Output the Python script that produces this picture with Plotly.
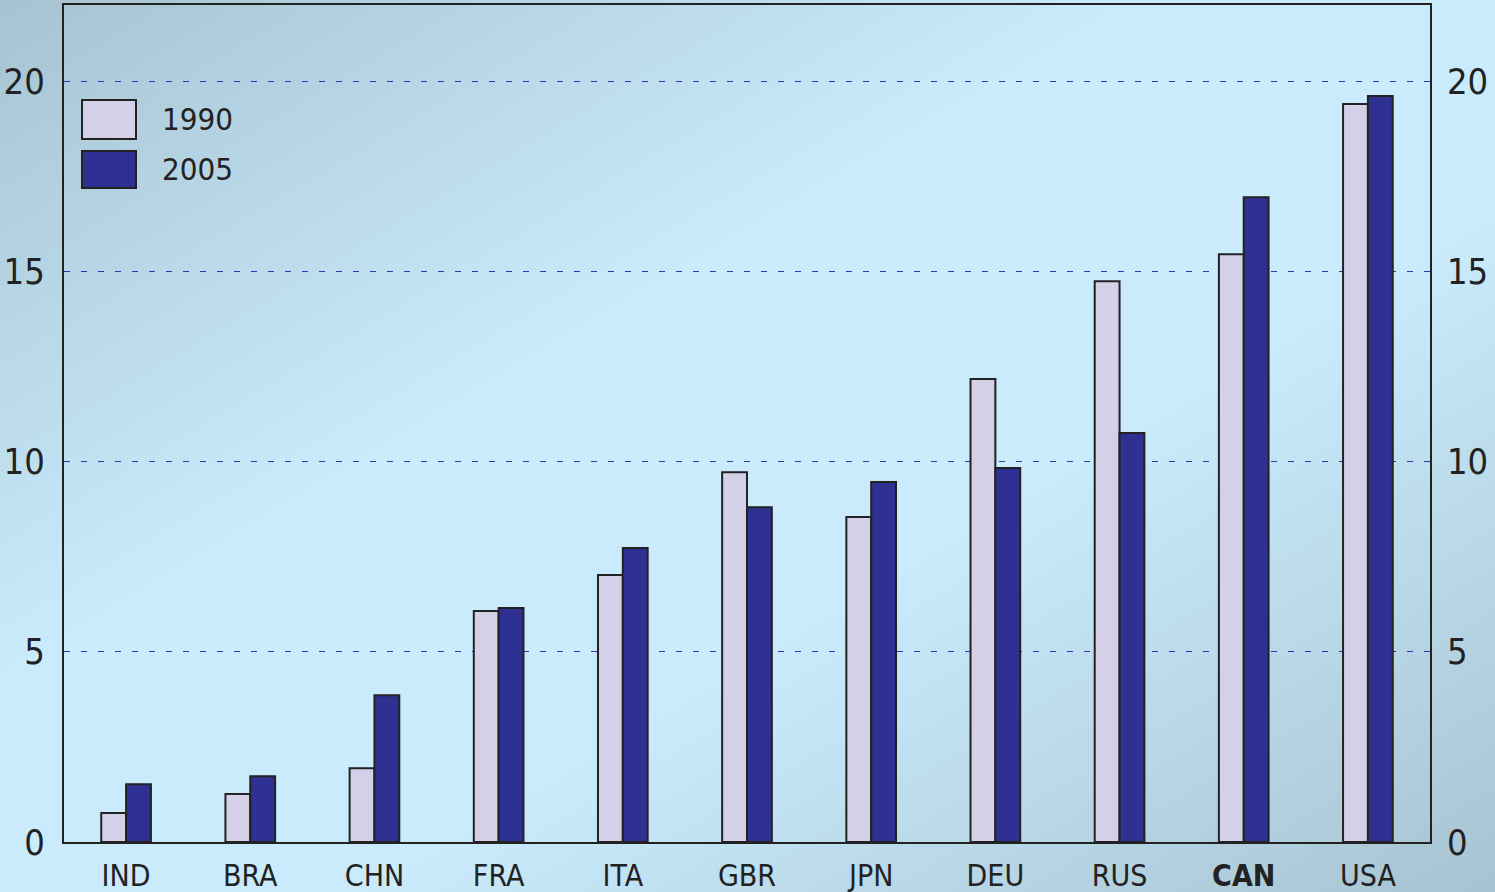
import base64
import plotly.graph_objects as go

countries = ["IND", "BRA", "CHN", "FRA", "ITA", "GBR", "JPN", "DEU", "RUS", "CAN", "USA"]
tick_text = ["IND", "BRA", "CHN", "FRA", "ITA", "GBR", "JPN", "DEU", "RUS", "<b>CAN</b>", "USA"]
val_1990 = [0.76, 1.26, 1.94, 6.07, 7.02, 9.72, 8.54, 12.17, 14.74, 15.45, 19.40]
val_2005 = [1.52, 1.73, 3.86, 6.15, 7.73, 8.80, 9.46, 9.83, 10.75, 16.95, 19.61]
y_ticks = [0, 5, 10, 15, 20]

FONT = "DejaVu Sans Condensed, Liberation Sans Narrow, Liberation Sans, sans-serif"
W, H = 1495, 892
L, R, T, B = 64, 65, 5, 50
pw, ph = W - L - R, H - T - B
GRID = "#3434b8"

# fond en dégradé (coins sombres en diagonale)
svg = (
    '<svg xmlns="http://www.w3.org/2000/svg" width="100" height="100" preserveAspectRatio="none">'
    '<defs><linearGradient id="g" x1="0" y1="0" x2="1" y2="1">'
    '<stop offset="0" stop-color="#a7c3d1"/>'
    '<stop offset="0.38" stop-color="#c9ebfc"/>'
    '<stop offset="0.62" stop-color="#c9ebfc"/>'
    '<stop offset="1" stop-color="#a7c3d1"/>'
    '</linearGradient></defs><rect width="100" height="100" fill="url(#g)"/></svg>'
)
bg_src = "data:image/svg+xml;base64," + base64.b64encode(svg.encode()).decode()

fig = go.Figure()

fig.add_trace(go.Bar(
    x=countries, y=val_1990, name="1990",
    marker=dict(color="#d3d0e8", line=dict(color="#222222", width=2)),
))
fig.add_trace(go.Bar(
    x=countries, y=val_2005, name="2005",
    marker=dict(color="#2e3192", line=dict(color="#222222", width=2)),
))

# graduations de droite (mêmes valeurs que l'axe de gauche)
for v in y_ticks:
    fig.add_annotation(
        x=1, xref="paper", y=v, yref="y",
        text=str(v), showarrow=False, xanchor="left", yanchor="middle",
        xshift=15, font=dict(family=FONT, size=36, color="#222222"),
    )

# légende manuelle (grands carrés)
legend_items = [("1990", "#d3d0e8", 100, 139), ("2005", "#2e3192", 151, 188)]
for label, color, y0, y1 in legend_items:
    fig.add_shape(
        type="rect", xref="paper", yref="paper",
        x0=(82 - L) / pw, x1=(136 - L) / pw,
        y0=1 - (y1 - T) / ph, y1=1 - (y0 - T) / ph,
        fillcolor=color, line=dict(color="#222222", width=2),
    )
    fig.add_annotation(
        xref="paper", yref="paper",
        x=(160 - L) / pw, y=1 - ((y0 + y1) / 2 - T) / ph,
        text=label, showarrow=False, xanchor="left", yanchor="middle",
        font=dict(family=FONT, size=31, color="#222222"),
    )

fig.add_layout_image(
    source=bg_src, xref="paper", yref="paper",
    x=-L / pw, y=1 + T / ph, sizex=W / pw, sizey=H / ph,
    sizing="stretch", xanchor="left", yanchor="top", layer="below",
)

fig.update_layout(
    width=W, height=H,
    margin=dict(l=L, r=R, t=T, b=B),
    paper_bgcolor="#c3e4f4",
    plot_bgcolor="rgba(0,0,0,0)",
    barmode="group",
    bargap=0.6,
    bargroupgap=0,
    showlegend=False,
    font=dict(family=FONT, color="#222222"),
    xaxis=dict(
        tickvals=countries, ticktext=tick_text, range=[-0.5, 10.5],
        tickfont=dict(size=30), showgrid=False, automargin=False,
        showline=True, linecolor="#222222", linewidth=2, mirror=True,
        ticks="", ticklabelstandoff=6,
    ),
    yaxis=dict(
        range=[0, 22], tickvals=y_ticks, tickfont=dict(size=36),
        showgrid=True, gridcolor=GRID, gridwidth=1, griddash="6px,11px",
        showline=True, linecolor="#222222", linewidth=2, mirror=True,
        zeroline=False, ticks="", ticklabelstandoff=10, automargin=False,
    ),
)

fig.write_html(
    "out.html",
    config={"displayModeBar": False},
    post_script="document.body.style.margin='0';",
)
